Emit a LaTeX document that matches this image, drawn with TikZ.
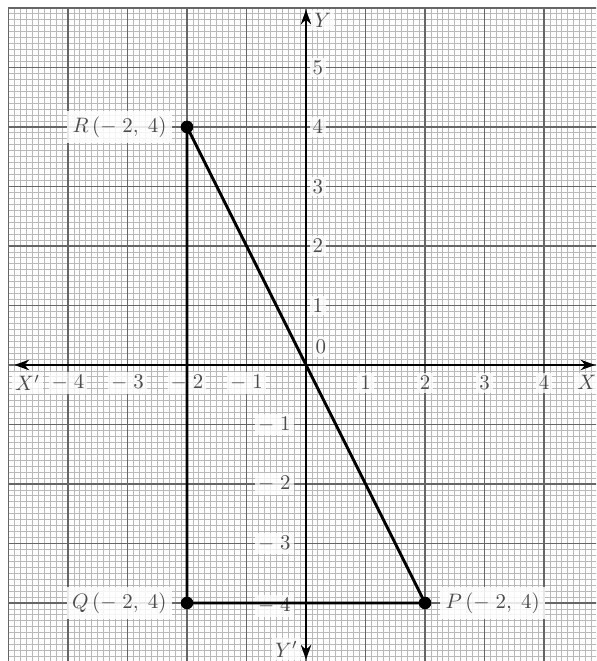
\documentclass[tikz,border=0pt]{standalone}
\usetikzlibrary{arrows.meta}
\tikzset{
  minorgrid/.style={gray!55, line width=0.4pt},
  majorgrid/.style={black!60, line width=0.9pt},
  axisline/.style={line width=1.1pt, {Stealth[length=7pt,width=5pt]}-{Stealth[length=7pt,width=5pt]}},
  ticklab/.style={fill=white, fill opacity=0.75, text opacity=1, text=black!70, inner sep=1.5pt},
  ptlab/.style={fill=white, fill opacity=0.85, text opacity=1, text=black!70, inner sep=2.5pt},
  tri/.style={line width=1.4pt, black},
  dot/.style={circle, fill=black, inner sep=0pt, minimum size=6pt}
}
\begin{document}
\begin{tikzpicture}[x=1cm,y=1cm]
\useasboundingbox (-5.143,-4.975) rectangle (4.874,6.134);
\fill[white] (-5.143,-4.975) rectangle (4.874,6.134);
\begin{scope}
\clip (-5,-4.975) rectangle (4.874,6);
\draw[minorgrid, step=0.1] (-5,-5) grid (5,6);
\draw[majorgrid, step=1] (-5,-5) grid (5,6);
\end{scope}
\draw[majorgrid] (-5,-4.975) -- (-5,6) -- (4.874,6);
% axes
\coordinate (xl) at (-4.9,0);
\coordinate (xr) at (4.86,0);
\coordinate (yb) at (0,-4.95);
\coordinate (yt) at (0,5.97);
\draw[axisline] (xl) -- (xr);
\draw[axisline] (yb) -- (yt);
% axis labels
\node[ticklab] (lX1) at (-4.68,-0.3) {$X'$};
\node[ticklab] (lX) at (4.72,-0.3) {$X$};
\node[ticklab] (lY) at (0.28,5.8) {$Y$};
\node[ticklab] (lY1) at (-0.33,-4.78) {$Y'$};
% x tick labels
\node[ticklab] (xm4) at (-4,-0.3) {$-\;4$};
\node[ticklab] (xm3) at (-3,-0.3) {$-\;3$};
\node[ticklab] (xm2) at (-2,-0.3) {$-\;2$};
\node[ticklab] (xm1) at (-1,-0.3) {$-\;1$};
\node[ticklab] (xp1) at (1,-0.3) {$1$};
\node[ticklab] (xp2) at (2,-0.3) {$2$};
\node[ticklab] (xp3) at (3,-0.3) {$3$};
\node[ticklab] (xp4) at (4,-0.3) {$4$};
% y tick labels
\node[ticklab] (y0) at (0.25,0.3) {$0$};
\node[ticklab] (yp1) at (0.2,1) {$1$};
\node[ticklab] (yp2) at (0.2,2) {$2$};
\node[ticklab] (yp3) at (0.2,3) {$3$};
\node[ticklab] (yp4) at (0.2,4) {$4$};
\node[ticklab] (yp5) at (0.2,5) {$5$};
\node[ticklab, anchor=east] (ym1) at (-0.2,-1) {$-\;1$};
\node[ticklab, anchor=east] (ym2) at (-0.2,-2) {$-\;2$};
\node[ticklab, anchor=east] (ym3) at (-0.2,-3) {$-\;3$};
\node[ticklab, anchor=east] (ym4) at (-0.2,-4.05) {$-\;4$};
% triangle
\node[dot] (R) at (-2,4) {};
\node[dot] (Q) at (-2,-4) {};
\node[dot] (P) at (2,-4) {};
\draw[tri] (R.center) -- (Q.center) -- (P.center) -- cycle;
\node[ptlab, anchor=east] (Rl) at ([xshift=-0.25cm]R.center) {$R\,(-\;2,\;4)$};
\node[ptlab, anchor=east] (Ql) at ([xshift=-0.25cm]Q.center) {$Q\,(-\;2,\;4)$};
\node[ptlab, anchor=west] (Pl) at ([xshift=0.25cm]P.center) {$P\,(-\;2,\;4)$};
\end{tikzpicture}
\end{document}
